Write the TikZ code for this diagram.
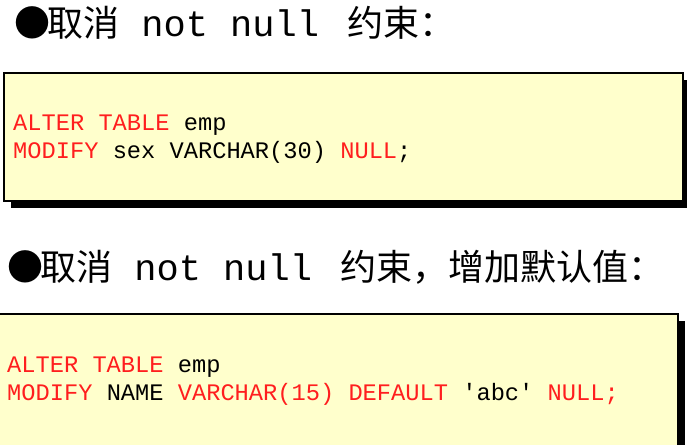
\documentclass[tikz,border=0pt]{standalone}
\usepackage{fontspec}
\setmonofont{Liberation Mono}
\newfontfamily\cjk{Noto Sans CJK SC}
\usetikzlibrary{shadows}
\definecolor{codebg}{RGB}{255,255,204}
\definecolor{kwred}{RGB}{255,30,30}
\newcommand{\kw}[1]{\textcolor{kwred}{#1}}
\newcommand{\tw}[1]{{\ttfamily\fontsize{37}{40}\selectfont\ #1\ }\hspace{6pt}}

\begin{document}
\begin{tikzpicture}[x=1pt,y=-1pt,
    title/.style={anchor=base west,inner sep=0pt,font=\cjk\fontsize{36}{40}\selectfont},
    codebox/.style={draw=black,line width=2.5pt,fill=codebg,inner sep=0pt,
      drop shadow={shadow xshift=7pt,shadow yshift=-7pt,fill=black,opacity=1}},
    codeline/.style={anchor=base west,inner sep=0pt,font=\ttfamily\fontsize{23.7}{28}\selectfont}]
  \useasboundingbox (0,0) rectangle (687,444);
  % first statement
  \node[title] (title1) at (14,37) {●\hspace{-3pt}取消\tw{not null}约束：};
  \node[codebox,minimum width=679pt,minimum height=128pt] (box1) at (343.5,137) {};
  \node[codeline] (line1a) at (13,130) {\kw{ALTER TABLE} emp};
  \node[codeline] (line1b) at (13,158) {\kw{MODIFY} sex VARCHAR(30) \kw{NULL};};
  % second statement
  \node[title] (title2) at (7,280) {●\hspace{-3pt}取消\tw{not null}约束，增加默认值：};
  \node[codebox,minimum width=682pt,minimum height=134pt] (box2) at (337,381) {};
  \node[codeline] (line2a) at (7,372) {\kw{ALTER TABLE} emp};
  \node[codeline] (line2b) at (7,400) {\kw{MODIFY} NAME \kw{VARCHAR(15) DEFAULT} 'abc' \kw{NULL;}};
\end{tikzpicture}
\end{document}
